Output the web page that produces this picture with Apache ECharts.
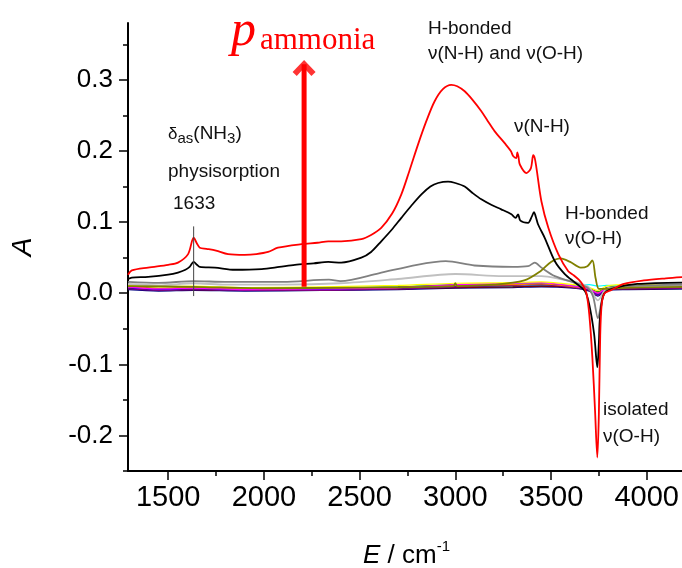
<!DOCTYPE html>
<html>
<head>
<meta charset="utf-8">
<title>NH3 adsorption IR</title>
<script src="https://cdn.jsdelivr.net/npm/echarts@6/dist/echarts.min.js"></script>
<style>
html,body{margin:0;padding:0;background:#fff;}
#chart{width:682px;height:568px;}
</style>
</head>
<body>
<div id="chart"></div>
<script type="text/javascript">
// wavenumber ticks
var xMajor = [1500, 2000, 2500, 3000, 3500, 4000];
var xMinor = [1750, 2250, 2750, 3250, 3750];
var yMajor = [-0.2, -0.1, 0, 0.1, 0.2, 0.3];
var yMinor = [-0.25, -0.15, -0.05, 0.05, 0.15, 0.25, 0.35];

// highest ammonia pressure
var redE = [1290,1310,1395,1500,1551,1604,1633,1650,1665,1700,1750,1813,1900,1960,2022,2073,2196,2280,2336,2404,2509,2560,2613,2670,2718,2760,2805,2850,2892,2935,2979,3010,3049,3090,3136,3170,3205,3258,3290,3302,3318,3324,3330,3337,3372,3395,3407,3415,3424,3450,3486,3538,3590,3620,3645,3665,3685,3700,3716,3730,3742,3750,3757,3765,3780,3811,3881,3985,4100,4200];
var redA = [0.026,0.032,0.036,0.040,0.043,0.055,0.078,0.070,0.064,0.0625,0.060,0.055,0.054,0.055,0.058,0.064,0.069,0.071,0.073,0.073,0.076,0.082,0.092,0.112,0.139,0.172,0.209,0.243,0.270,0.287,0.293,0.291,0.284,0.272,0.256,0.242,0.228,0.211,0.200,0.193,0.190,0.198,0.192,0.181,0.169,0.176,0.194,0.190,0.176,0.129,0.092,0.055,0.031,0.025,0.019,0.012,0.000,-0.030,-0.090,-0.165,-0.231,-0.170,-0.060,-0.015,0.000,0.004,0.013,0.018,0.021,0.023];

var blackE = [1290,1310,1395,1500,1551,1590,1612,1633,1650,1665,1744,1848,1988,2080,2162,2260,2336,2404,2509,2560,2613,2670,2718,2770,2823,2870,2910,2962,3000,3049,3090,3136,3190,3240,3293,3315,3328,3340,3380,3400,3411,3420,3432,3467,3520,3572,3625,3677,3699,3725,3742,3750,3756,3777,3829,3951,4200];
var blackA = [0.020,0.022,0.023,0.026,0.029,0.033,0.037,0.044,0.040,0.037,0.036,0.033,0.034,0.037,0.040,0.042,0.044,0.043,0.050,0.058,0.073,0.090,0.106,0.123,0.139,0.150,0.155,0.157,0.155,0.150,0.141,0.132,0.124,0.118,0.111,0.106,0.111,0.102,0.099,0.108,0.114,0.108,0.097,0.078,0.045,0.027,0.015,0.003,-0.015,-0.057,-0.104,-0.070,-0.034,-0.001,0.007,0.013,0.015];

var grayE = [1290,1450,1633,1800,2100,2340,2400,2600,2800,2950,3100,3300,3380,3415,3450,3520,3620,3690,3720,3745,3770,3800,3900,4200];
var grayA = [0.016,0.0145,0.017,0.016,0.016,0.019,0.017,0.028,0.040,0.045,0.039,0.037,0.038,0.043,0.036,0.024,0.015,0.008,-0.005,-0.035,-0.005,0.006,0.010,0.012];

var lgrayE = [1290,1450,1633,1800,2100,2400,2700,3000,3250,3450,3550,3650,3700,3745,3790,3900,4200];
var lgrayA = [0.013,0.011,0.014,0.012,0.012,0.014,0.020,0.027,0.024,0.024,0.020,0.014,0.008,-0.010,0.006,0.009,0.010];

var oliveE = [1290,1633,2000,2500,2990,3000,3010,3200,3360,3445,3500,3550,3600,3655,3690,3716,3733,3751,3790,3900,4200];
var oliveA = [0.010,0.009,0.007,0.008,0.010,0.014,0.010,0.012,0.018,0.031,0.044,0.049,0.044,0.036,0.038,0.046,0.021,0.006,0.006,0.008,0.009];

// low pressure spectra, all close to the baseline
var baseE = [1290,1450,1633,1900,2300,2700,3000,3300,3450,3620,3700,3745,3790,3900,4200];
var baseColors = ['#00ffff','#008080','#000080','#800000','#008000','#0000ff','#800080','#ff8000','#ff00ff','#ffff00'];
var baseA = [
  [0.007,0.005,0.006,0.005,0.006,0.007,0.009,0.010,0.011,0.010,0.012,0.010,0.011,0.010,0.009],
  [0.006,0.004,0.005,0.004,0.005,0.006,0.008,0.009,0.010,0.008,0.004,-0.002,0.004,0.006,0.006],
  [0.005,0.003,0.004,0.003,0.004,0.005,0.007,0.008,0.009,0.007,0.003,-0.004,0.004,0.005,0.006],
  [0.007,0.005,0.005,0.004,0.005,0.006,0.008,0.009,0.010,0.008,0.005,0.000,0.005,0.006,0.007],
  [0.010,0.007,0.008,0.006,0.007,0.009,0.012,0.013,0.013,0.010,0.007,0.002,0.008,0.010,0.011],
  [0.008,0.005,0.006,0.004,0.005,0.007,0.010,0.012,0.013,0.009,0.005,-0.002,0.006,0.008,0.008],
  [0.006,0.004,0.005,0.004,0.004,0.006,0.009,0.011,0.012,0.008,0.004,-0.003,0.005,0.006,0.007],
  [0.009,0.007,0.008,0.006,0.007,0.008,0.011,0.012,0.013,0.009,0.006,0.001,0.007,0.008,0.009],
  [0.009,0.006,0.007,0.005,0.006,0.008,0.012,0.014,0.015,0.010,0.006,0.000,0.007,0.009,0.010],
  [0.011,0.009,0.010,0.008,0.009,0.011,0.014,0.015,0.016,0.012,0.008,0.004,0.010,0.012,0.012]
];

// 1633 marker line and pressure arrow
var markE = [1633, 1633];
var markA = [0.094, -0.004];
var arrowE = [2210, 2210];
var arrowA = [0.009, 0.322];
var arrowTip = [2210, 0.328];

function pairs(xs, ys) {
    var out = [];
    for (var i = 0; i < xs.length; i++) out.push([xs[i], ys[i]]);
    return out;
}

var FONT = '"Liberation Sans", Arial, sans-serif';
var SERIF = '"Liberation Serif", "Times New Roman", serif';

var series = [];
for (var b = 0; b < baseA.length; b++) {
    series.push({type:'line', data:pairs(baseE, baseA[b]), showSymbol:false, smooth:0.3,
        lineStyle:{color:baseColors[b], width:1.2}});
}
series.push({type:'line', data:pairs(lgrayE, lgrayA), showSymbol:false, smooth:0.3, lineStyle:{color:'#c0c0c0', width:1.8}});
series.push({type:'line', data:pairs(grayE, grayA), showSymbol:false, smooth:0.3, lineStyle:{color:'#808080', width:1.8}});
series.push({type:'line', data:pairs(oliveE, oliveA), showSymbol:false, smooth:0.3, lineStyle:{color:'#808000', width:1.8}});
series.push({type:'line', data:pairs(blackE, blackA), showSymbol:false, smooth:0.3, lineStyle:{color:'#000000', width:1.8}});
series.push({type:'line', data:pairs(redE, redA), showSymbol:false, smooth:0.3, lineStyle:{color:'#ff0000', width:1.8}});
series.push({type:'line', data:pairs(markE, markA), showSymbol:false, lineStyle:{color:'#444444', width:1}});
series.push({type:'line', data:pairs(arrowE, arrowA), showSymbol:false, lineStyle:{color:'#ff0000', width:5, cap:'butt'}});
series.push({type:'scatter', data:[arrowTip], symbol:'path://M0,12 L11,0 L22,12 L18,16 L11,8 L4,16 Z',
    symbolSize:[23,16], symbolOffset:[0,8], itemStyle:{color:'#ff0000'}});

var chart = echarts.init(document.getElementById('chart'));

function txt(x, y, s, rich) {
    return {type:'text', x:x, y:y, silent:true,
        style:{text:s, font:'19px ' + FONT, fill:'#111', verticalAlign:'middle', rich:rich}};
}
var subRich = {
    n:{fontSize:19, fontFamily:FONT, color:'#111', lineHeight:24},
    d:{fontSize:17, fontFamily:FONT, color:'#111', verticalAlign:'middle', lineHeight:20},
    s:{fontSize:15, fontFamily:FONT, color:'#111', verticalAlign:'bottom', lineHeight:17}
};

chart.setOption({
    animation:false,
    backgroundColor:'#fff',
    grid:{left:128, right:-3, top:23, bottom:97, outerBoundsMode:'none'},
    xAxis:[{
        type:'value', min:1290, max:4200,
        axisLine:{onZero:false, lineStyle:{color:'#000', width:2}},
        axisTick:{customValues:xMajor, length:9, lineStyle:{color:'#000', width:1.5}},
        axisLabel:{customValues:xMajor, fontSize:29, fontFamily:FONT, color:'#000', margin:12,
            formatter:function(v){ return String(v); }},
        splitLine:{show:false},
        name:'{i|E}{n| / cm}{u|-1}', nameLocation:'middle', nameGap:68,
        nameTextStyle:{rich:{
            i:{fontSize:26, fontStyle:'italic', fontFamily:FONT, color:'#000'},
            n:{fontSize:26, fontFamily:FONT, color:'#000'},
            u:{fontSize:15, fontFamily:FONT, color:'#000', verticalAlign:'top', lineHeight:34}
        }}
    }, {
        type:'value', min:1290, max:4200, position:'bottom',
        axisLine:{show:false, onZero:false},
        axisTick:{customValues:xMinor, length:5, lineStyle:{color:'#000', width:1.5}},
        axisLabel:{show:false}, splitLine:{show:false}
    }],
    yAxis:[{
        type:'value', min:-0.25, max:0.38,
        axisLine:{show:true, onZero:false, lineStyle:{color:'#000', width:2}},
        axisTick:{show:true, customValues:yMajor, length:9, lineStyle:{color:'#000', width:1.5}},
        axisLabel:{customValues:yMajor, fontSize:26, fontFamily:FONT, color:'#000', margin:15,
            formatter:function(v){ return v.toFixed(1); }},
        splitLine:{show:false},
        name:'A', nameLocation:'middle', nameGap:91,
        nameTextStyle:{fontSize:28, fontStyle:'italic', fontFamily:FONT, color:'#000'}
    }, {
        type:'value', min:-0.25, max:0.38, position:'left',
        axisLine:{show:false, onZero:false},
        axisTick:{show:true, customValues:yMinor, length:5, lineStyle:{color:'#000', width:1.5}},
        axisLabel:{show:false}, splitLine:{show:false}
    }],
    series:series,
    graphic:[
        {type:'text', x:231, y:32, silent:true, style:{text:'p', font:'italic 50px ' + SERIF, fill:'#ff0000', verticalAlign:'middle'}},
        {type:'text', x:260, y:41, silent:true, style:{text:'ammonia', font:'31px ' + SERIF, fill:'#ff0000', verticalAlign:'middle'}},
        txt(168, 134, '{d|δ}{s|as}{n|(NH}{s|3}{n|)}', subRich),
        txt(168, 172, 'physisorption'),
        txt(173, 204, '1633'),
        txt(428, 29, 'H-bonded'),
        txt(428, 54, 'ν(N-H) and ν(O-H)'),
        txt(514, 127, 'ν(N-H)'),
        txt(565, 214, 'H-bonded'),
        txt(565, 239, 'ν(O-H)'),
        txt(603, 410, 'isolated'),
        txt(603, 437, 'ν(O-H)')
    ]
});
</script>
</body>
</html>
